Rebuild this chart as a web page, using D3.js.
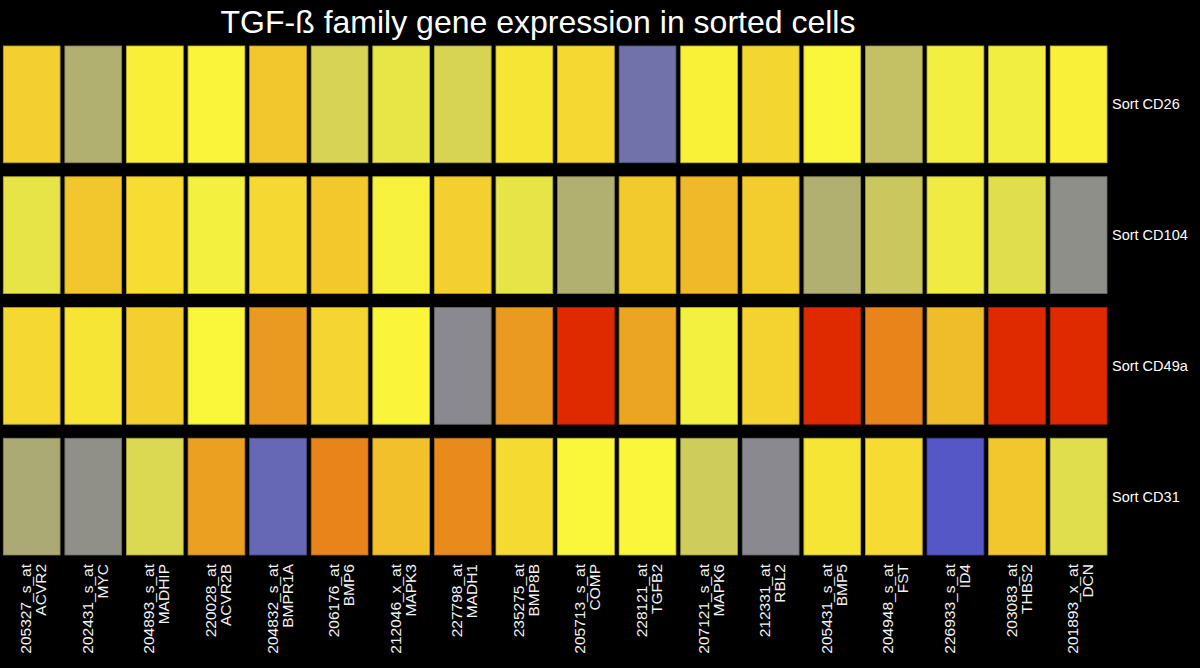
<!DOCTYPE html>
<html>
<head>
<meta charset="utf-8">
<script src="https://cdn.jsdelivr.net/npm/d3@7"></script>
<style>
  html, body { margin: 0; padding: 0; background: #000; }
  svg { display: block; }
</style>
</head>
<body>
<svg id="chart" width="1200" height="668"></svg>
<script>
// ---- Data ----
const probes = ["205327_s_at","202431_s_at","204893_s_at","220028_at","204832_s_at","206176_at","212046_x_at","227798_at","235275_at","205713_s_at","228121_at","207121_s_at","212331_at","205431_s_at","204948_s_at","226933_s_at","203083_at","201893_x_at"];
const genes = ["ACVR2","MYC","MADHIP","ACVR2B","BMPR1A","BMP6","MAPK3","MADH1","BMP8B","COMP","TGFB2","MAPK6","RBL2","BMP5","FST","ID4","THBS2","DCN"];
const samples = ["Sort CD26","Sort CD104","Sort CD49a","Sort CD31"];

const cd26  = [0.41,-0.66,0.08,0.01,0.51,-0.33,-0.16,-0.32,0.18,0.33,-1.47,0.07,0.35,0.00,-0.50,-0.07,-0.08,0.05];
const cd104 = [-0.17,0.51,0.28,-0.06,0.33,0.50,-0.04,0.41,-0.17,-0.66,0.48,0.66,0.46,-0.66,-0.44,-0.10,-0.23,-0.97];
const cd49a = [0.33,0.18,0.41,0.00,1.00,0.36,0.01,-1.05,1.00,2.00,0.88,-0.06,0.39,2.00,1.20,0.62,2.00,2.00];
const cd31  = [-0.72,-0.96,-0.28,0.93,-1.67,1.20,0.59,1.14,0.30,0.00,0.00,-0.40,-1.05,0.18,0.29,-1.97,0.51,-0.23];

const title = "TGF-ß family gene expression in sorted cells";

// colour scale stops
const colorDomain = [-2, -1, 0, 1, 2];
const colorRange  = ["#5355c9", "#8c8c8c", "#faf63a", "#ea9a20", "#df2a00"];

// ---- Build table ----
const rowsData = [cd26, cd104, cd49a, cd31];
const cells = [];
samples.forEach((s, i) => {
  rowsData[i].forEach((v, j) => cells.push({ sample: s, probe: probes[j], value: v }));
});

const svg = d3.select("#chart");
svg.append("rect").attr("width", 1200).attr("height", 668).attr("fill", "#000");

const x = d3.scaleBand().domain(probes).range([3.3, 1107]).paddingInner(0.078);
const y = d3.scaleBand().domain(samples).range([46, 555]).paddingInner(0.107);
const color = d3.scaleLinear().domain(colorDomain).range(colorRange).clamp(true);

svg.append("text")
  .attr("x", 538).attr("y", 33)
  .attr("text-anchor", "middle")
  .attr("fill", "#fff")
  .attr("font-family", "'Liberation Sans', Arial, Helvetica, sans-serif")
  .attr("font-size", 32)
  .text(title);

svg.append("g").selectAll("rect")
  .data(cells)
  .join("rect")
  .attr("x", d => x(d.probe))
  .attr("y", d => y(d.sample))
  .attr("width", x.bandwidth())
  .attr("height", y.bandwidth())
  .attr("fill", d => color(d.value))
  .attr("stroke", d => d3.color(color(d.value)).darker(0.8))
  .attr("stroke-width", 0.8);

// Row labels
svg.append("g").selectAll("text")
  .data(samples)
  .join("text")
  .attr("x", 1112)
  .attr("y", d => y(d) + y.bandwidth() / 2)
  .attr("dominant-baseline", "central")
  .attr("fill", "#fff")
  .attr("font-family", "'Liberation Sans', Arial, Helvetica, sans-serif")
  .attr("font-size", 14.5)
  .text(d => d);

// Column labels
const colG = svg.append("g").selectAll("g")
  .data(probes)
  .join("g")
  .attr("transform", d => `translate(${x(d) + x.bandwidth() / 2},564) rotate(-90)`);

colG.append("text")
  .attr("x", 0).attr("y", -6)
  .attr("text-anchor", "end")
  .attr("dominant-baseline", "central")
  .attr("fill", "#f2f2f2")
  .attr("font-family", "'Liberation Sans', Arial, Helvetica, sans-serif")
  .attr("font-size", 15.5)
  .text(d => d);

colG.append("text")
  .attr("x", 0).attr("y", 9)
  .attr("text-anchor", "end")
  .attr("dominant-baseline", "central")
  .attr("fill", "#f2f2f2")
  .attr("font-family", "'Liberation Sans', Arial, Helvetica, sans-serif")
  .attr("font-size", 15.5)
  .text((d, i) => genes[i]);
</script>
</body>
</html>
